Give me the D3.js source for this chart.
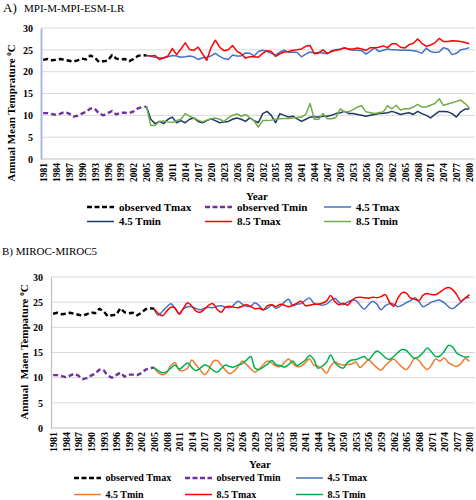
<!DOCTYPE html>
<html><head><meta charset="utf-8">
<script src="https://cdn.jsdelivr.net/npm/d3@7"></script>
<style>
body{margin:0;background:#fff}
svg{display:block}
text{font-family:"Liberation Serif","Times New Roman",serif}
</style>
</head><body>
<svg id="c" width="476" height="500"></svg>
<script>
// ---------- categories ----------
const years = d3.range(1981, 2081);          // 1981..2080
const obsYears = d3.range(1981, 2006);       // 1981..2005
const projYears = d3.range(2005, 2081);      // 2005..2080
const xTickLabels = [1981,1984,1987,1990,1993,1996,1999,2002,2005,2008,2011,2014,2017,2020,2023,2026,2029,2032,2035,2038,2041,2044,2047,2050,2053,2056,2059,2062,2065,2068,2071,2074,2077,2080];
const yTickLabels = [0,5,10,15,20,25,30];

// ---------- observed (1981-2005) ----------
const observedTmax = [22.7,22.9,22.6,22.7,22.9,22.7,22.5,22.3,22.6,23.0,
                      22.8,23.7,23.2,22.2,22.4,22.5,23.8,23.0,22.8,22.9,
                      22.4,22.9,23.6,23.8,23.7];
const observedTmin = [10.5,10.5,10.3,10.1,10.4,10.8,10.4,9.7,9.9,10.4,
                      10.8,11.6,11.5,10.4,10.0,10.5,11.0,10.2,10.6,10.6,
                      10.5,10.9,11.6,11.9,12.0];

// ---------- A) MPI-M-MPI-ESM-LR projections (2005-2080) ----------
const mpiTmax45 = [23.7,23.5,23.3,23.2,23.1,23.4,23.7,23.6,23.3,23.4,
                   23.6,23.4,22.8,23.2,23.3,23.6,24.2,23.5,23.0,22.8,
                   23.8,23.6,23.6,24.3,24.2,23.6,24.6,24.9,24.6,24.2,
                   23.8,24.5,24.9,24.4,24.5,24.4,23.4,24.0,24.5,24.3,
                   24.4,24.3,24.1,24.8,25.0,25.2,25.5,25.1,24.9,24.9,
                   24.8,24.0,24.7,25.5,24.6,24.9,25.2,25.0,25.0,24.9,
                   24.9,24.9,24.8,24.6,24.2,25.4,24.6,24.4,24.5,25.5,
                   25.2,23.9,24.2,25.0,25.2,25.5];
const mpiTmin45 = [12.0,9.1,8.1,8.6,8.1,9.1,9.6,8.3,8.8,8.3,
                   9.1,9.4,8.6,8.3,8.8,9.2,8.8,8.3,8.5,8.6,
                   9.1,9.4,9.1,8.6,9.4,8.8,8.3,10.4,10.9,10.0,
                   8.3,10.4,10.0,9.6,9.8,9.2,8.6,9.1,9.6,9.6,
                   9.6,9.8,9.8,10.0,10.4,10.6,10.9,10.4,10.4,10.2,
                   10.0,9.8,10.0,10.2,10.4,10.5,10.6,10.9,10.6,10.2,
                   10.4,10.6,10.2,10.9,10.4,10.0,9.4,10.2,10.9,10.9,
                   10.8,10.4,9.6,10.8,11.4,11.5];
const mpiTmax85 = [23.7,23.6,23.7,22.8,23.2,23.6,25.3,23.9,25.2,26.6,
                   25.1,24.9,25.6,24.1,22.6,25.5,27.2,25.6,24.8,25.0,
                   26.0,24.7,24.1,23.1,23.4,23.4,23.3,24.2,24.8,24.6,
                   23.5,24.1,24.5,24.6,24.9,25.0,25.2,25.8,26.0,24.1,
                   24.3,25.0,24.2,24.6,24.9,25.1,25.4,25.2,25.2,25.4,
                   25.2,24.9,25.5,25.5,25.6,25.9,25.5,26.4,26.4,25.6,
                   25.4,26.2,26.5,27.5,26.5,25.8,26.1,26.6,27.6,26.9,
                   26.9,27.1,27.0,26.9,26.7,26.4];
const mpiTmin85 = [12.0,7.7,7.7,8.6,8.7,8.5,8.4,8.8,9.1,10.4,
                   9.8,9.4,8.9,8.5,8.9,9.2,9.4,9.1,8.6,9.4,
                   10.0,10.3,9.8,10.2,9.5,8.7,7.3,8.8,8.8,8.9,
                   9.1,9.2,9.3,9.3,9.4,9.5,9.6,10.2,12.7,9.1,
                   9.1,10.4,9.2,9.2,9.5,11.5,10.8,10.8,11.3,11.9,
                   12.2,10.8,10.6,10.4,10.6,10.8,12.2,11.5,12.3,11.2,
                   11.5,11.5,11.9,12.5,11.9,11.9,12.3,12.7,13.8,12.3,
                   12.6,12.9,13.2,13.5,12.7,11.7];

// ---------- B) MIROC-MIROC5 projections (2005-2080) ----------
const mirocTmax45 = [23.7,22.4,23.2,24.0,24.7,23.8,22.8,23.7,24.1,24.1,
                     23.7,23.5,23.8,24.0,23.9,24.2,24.3,24.0,23.9,24.5,
                     25.2,24.6,24.2,24.2,24.9,24.3,23.5,23.8,24.4,23.8,
                     24.2,25.0,25.6,24.3,24.6,24.7,25.4,25.8,24.8,24.6,
                     24.4,24.6,25.3,25.8,24.9,24.5,25.0,25.4,25.3,24.4,
                     23.6,24.5,25.2,24.6,23.5,24.3,24.7,24.6,24.1,24.4,
                     24.9,25.3,25.9,25.1,24.1,24.5,25.0,25.3,25.4,24.9,
                     24.1,23.7,24.3,25.0,25.8,25.9];
const mirocTmin45 = [12.0,11.0,10.6,11.0,12.4,13.0,11.5,11.4,11.9,13.5,
                     12.5,11.5,10.6,11.5,13.2,13.4,12.5,11.5,10.8,11.3,
                     12.2,13.3,12.6,11.8,11.1,11.7,12.6,13.3,12.9,12.3,
                     12.2,13.0,13.7,12.8,12.2,12.3,13.0,13.7,12.5,12.3,
                     11.8,10.9,12.3,13.1,12.7,12.5,12.6,12.7,13.1,12.0,
                     12.8,13.5,12.8,12.0,11.5,12.4,13.2,13.7,12.9,12.1,
                     11.6,12.6,13.9,13.4,12.3,11.6,12.5,13.7,13.3,13.9,
                     13.0,12.5,12.2,12.8,13.8,13.2];
const mirocTmax85 = [23.7,22.8,22.3,23.2,24.0,23.8,22.6,23.8,24.9,24.2,
                     23.2,23.0,23.6,24.4,24.7,23.6,23.0,24.0,24.2,24.0,
                     23.9,24.2,24.5,24.1,23.7,23.8,23.5,24.3,24.5,24.1,
                     24.6,24.4,24.1,24.4,24.8,25.2,24.3,24.4,24.6,24.6,
                     24.8,25.2,26.3,25.1,24.5,24.8,24.4,25.3,25.9,26.0,
                     25.9,25.8,26.0,25.9,26.1,26.5,25.0,24.2,25.8,26.9,
                     26.8,25.8,25.6,25.3,26.4,26.7,26.5,26.5,27.0,27.6,
                     27.9,27.5,26.5,25.2,25.8,26.5];
const mirocTmin85 = [12.0,11.4,11.0,11.2,11.9,12.5,11.7,12.3,12.9,12.0,
                     11.4,11.9,12.5,12.2,11.5,11.1,11.8,12.5,12.2,12.1,
                     12.5,12.8,13.5,14.2,11.9,11.6,12.1,12.7,13.4,12.6,
                     12.4,12.1,12.6,13.3,12.4,12.9,13.5,14.4,13.6,11.9,
                     12.3,13.0,14.5,13.0,12.2,11.9,13.0,13.5,13.6,13.9,
                     14.2,13.5,14.5,15.3,14.8,14.0,13.6,14.2,15.0,15.6,
                     15.4,14.5,13.8,14.2,15.0,15.9,15.1,14.2,14.3,15.2,
                     16.4,16.1,14.9,14.4,14.1,14.2];

const legendNames = ["observed Tmax","observed Tmin","4.5 Tmax","4.5 Tmin","8.5 Tmax","8.5 Tmin"];

const svg = d3.select("#c");
const FONT = '"Liberation Serif","Times New Roman",serif';

function drawPanel(o) {
  const g = svg.append("g");
  const x = d3.scalePoint().domain(years).range([o.left, o.right]).padding(0.5);
  const y = d3.scaleLinear().domain([0, 30]).range([o.bottom, o.top]);

  // gridlines
  g.append("g").selectAll("line").data(yTickLabels.filter(d => d > 0)).join("line")
    .attr("x1", o.left).attr("x2", o.gridRight)
    .attr("y1", d => y(d)).attr("y2", d => y(d))
    .attr("stroke", "#d9d9d9").attr("stroke-width", 1);

  // x axis
  const xa = g.append("g").attr("transform", `translate(0,${o.bottom})`)
    .call(d3.axisBottom(x).tickValues(xTickLabels).tickSize(0).tickSizeOuter(0));
  xa.select(".domain").remove();
  g.append("line").attr("x1", o.left).attr("x2", o.gridRight)
    .attr("y1", o.bottom).attr("y2", o.bottom)
    .attr("stroke", "#bfbfbf").attr("stroke-width", 1.2);
  xa.selectAll("text")
    .attr("transform", "rotate(-90)")
    .attr("text-anchor", "end")
    .attr("x", -4).attr("y", 0).attr("dy", "0.35em")
    .attr("font-family", FONT).attr("font-weight", "bold")
    .attr("font-size", o.xFont).attr("fill", "#000");

  // y axis
  const ya = g.append("g").attr("transform", `translate(${o.left},0)`)
    .call(d3.axisLeft(y).tickValues(yTickLabels).tickSize(0).tickSizeOuter(0).tickPadding(o.yPad));
  ya.select(".domain").attr("stroke", o.yAxisColor).attr("stroke-width", o.yAxisWidth);
  ya.selectAll("text").attr("font-family", FONT).attr("font-weight", "bold")
    .attr("font-size", 10).attr("fill", "#000");

  const line = d3.line().x(d => x(d[0])).y(d => y(d[1])).curve(o.curve);
  const lineStraight = d3.line().x(d => x(d[0])).y(d => y(d[1]));

  const series = o.series;
  series.forEach(s => {
    const pts = s.years.map((yr, i) => [yr, s.values[i]]);
    g.append("path").datum(pts)
      .attr("d", s.dash ? lineStraight : line)
      .attr("fill", "none")
      .attr("stroke", s.color)
      .attr("stroke-width", s.dash ? 2.4 : 1.5)
      .attr("stroke-dasharray", s.dash ? "5,3" : null)
      .attr("stroke-linejoin", "round");
  });

  // y axis title
  const yt = g.append("text")
    .attr("transform", `translate(${o.yTitleX},${o.yTitleY}) rotate(-90)`)
    .attr("text-anchor", "middle").attr("font-weight", "bold").attr("font-size", 11)
    .attr("xml:space", "preserve").style("white-space", "pre");
  yt.append("tspan").text(o.yTitle);
  yt.append("tspan").attr("font-size", 7).attr("dy", -4).text("0");
  yt.append("tspan").attr("dy", 4).text("C");

  // x axis title
  g.append("text").attr("x", o.yearX).attr("y", o.yearY).attr("text-anchor", "middle")
    .attr("font-weight", "bold").attr("font-size", 11).text("Year");

  // legend
  series.forEach((s, i) => {
    const col = i % 3, row = Math.floor(i / 3);
    const lx = o.legCols[col], ly = o.legRows[row];
    g.append("line").attr("x1", lx).attr("x2", lx + o.legLen)
      .attr("y1", ly).attr("y2", ly)
      .attr("stroke", s.color)
      .attr("stroke-width", s.dash ? 2.4 : 1.5)
      .attr("stroke-dasharray", s.dash ? "5,2.5" : null);
    g.append("text").attr("x", lx + o.legLen + o.legGap).attr("y", ly + o.legFont * 0.33)
      .attr("font-weight", "bold").attr("font-size", o.legFont).text(s.name);
  });
}

// titles
const tA = svg.append("text").attr("x", 3).attr("y", 12);
tA.append("tspan").attr("font-size", 13).text("A)");
tA.append("tspan").attr("x", 24).attr("font-size", 11).text("MPI-M-MPI-ESM-LR");
svg.append("text").attr("x", 2).attr("y", 255).attr("font-size", 11).text("B) MIROC-MIROC5");

drawPanel({
  left: 41, right: 471.5, gridRight: 475, top: 28, bottom: 159,
  yPad: 8, yAxisColor: "#a9b8dc", yAxisWidth: 2, xFont: 9.5,
  curve: d3.curveLinear,
  yTitle: "Annual Mean Temprature ", yTitleX: 15, yTitleY: 113,
  yearX: 257, yearY: 199.5,
  legCols: [87, 205, 324], legRows: [207, 221.5], legLen: 27, legGap: 5, legFont: 11,
  series: [
    {name: legendNames[0], years: obsYears, values: observedTmax, color: "#000000", dash: true},
    {name: legendNames[1], years: obsYears, values: observedTmin, color: "#7030a0", dash: true},
    {name: legendNames[2], years: projYears, values: mpiTmax45, color: "#4472c4"},
    {name: legendNames[3], years: projYears, values: mpiTmin45, color: "#203864"},
    {name: legendNames[4], years: projYears, values: mpiTmax85, color: "#ff0000"},
    {name: legendNames[5], years: projYears, values: mpiTmin85, color: "#70ad47"}
  ]
});

drawPanel({
  left: 51, right: 471.5, gridRight: 475, top: 277, bottom: 428,
  yPad: 8, yAxisColor: "#bfbfbf", yAxisWidth: 1.2, xFont: 10,
  curve: d3.curveCatmullRom.alpha(0.5),
  yTitle: "Annual  Maen Tempature ", yTitleX: 28, yTitleY: 352,
  yearX: 260, yearY: 468,
  legCols: [74, 185, 296], legRows: [478, 494.5], legLen: 27, legGap: 4.5, legFont: 10,
  series: [
    {name: legendNames[0], years: obsYears, values: observedTmax, color: "#000000", dash: true},
    {name: legendNames[1], years: obsYears, values: observedTmin, color: "#7030a0", dash: true},
    {name: legendNames[2], years: projYears, values: mirocTmax45, color: "#4472c4"},
    {name: legendNames[3], years: projYears, values: mirocTmin45, color: "#ed7d31"},
    {name: legendNames[4], years: projYears, values: mirocTmax85, color: "#ff0000"},
    {name: legendNames[5], years: projYears, values: mirocTmin85, color: "#00b050"}
  ]
});
</script>
</body></html>
